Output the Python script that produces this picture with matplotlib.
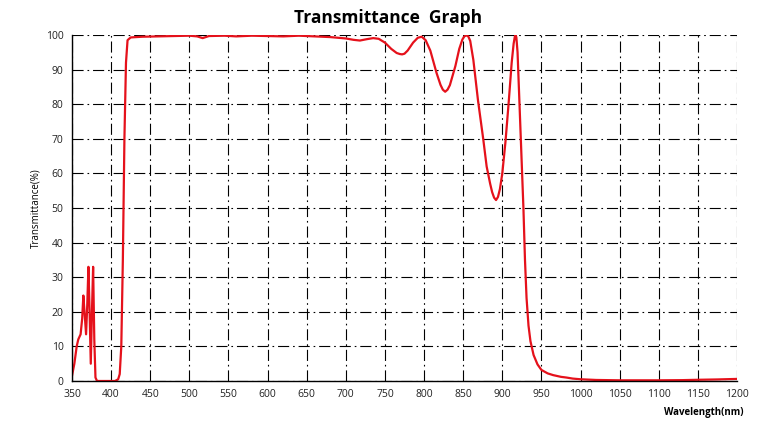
import matplotlib
matplotlib.use("Agg")
import matplotlib.pyplot as plt

wavelength = [350, 353, 356, 358, 361, 363, 364.5, 366, 368, 369.5, 371, 372.5, 374, 375.5, 377, 378.5,
              380, 382, 395, 405, 409, 411, 413, 415, 417, 419, 421, 425, 440, 460, 480, 500, 510, 517,
              525, 545, 560, 580, 600, 620, 640, 660, 680, 700, 710, 718, 727, 735, 742, 750, 758, 765,
              769, 772, 775, 779, 786, 792, 797, 802, 808, 816, 821, 824, 827, 830, 833, 840, 845, 849,
              851.5, 854, 856.5, 859, 863, 869, 875.6, 880, 884.5, 887, 889.5, 892, 894.5, 897, 900, 904,
              908, 912, 914.5, 916, 917, 918, 919.5, 922, 925, 927, 929, 931, 933.5, 936, 940, 945, 950,
              958, 965, 975, 982, 990, 1000, 1020, 1050, 1100, 1130, 1150, 1175, 1200]
transmittance = [1.5, 5, 10, 12, 13.5, 18, 24.7, 20, 13.5, 22, 33, 20, 5, 20, 33, 12,
                 1, 0, 0, 0, 0.5, 2, 10, 35, 70, 92, 98.5, 99.3, 99.5, 99.6, 99.7, 99.8, 99.6, 99.1,
                 99.7, 99.8, 99.6, 99.8, 99.7, 99.6, 99.8, 99.6, 99.4, 99.0, 98.6, 98.4, 98.8, 99.1, 98.9, 97.8, 96.0, 94.8,
                 94.5, 94.4, 94.6, 95.5, 97.8, 99.2, 99.5, 98.5, 95.5, 89.0, 85.6, 84.2, 83.6, 84.2, 85.5, 91, 96, 98.7,
                 99.6, 99.9, 99.6, 98.3, 92.8, 81, 70, 62, 57, 54.6, 53.0, 52.3, 53.2, 55.5, 60, 69,
                 80, 92, 97.5, 99.5, 100, 99.3, 95, 80, 62, 50, 35, 24, 16, 11.5, 7.5, 4.8, 3.2,
                 2.2, 1.7, 1.2, 1.0, 0.7, 0.5, 0.3, 0.2, 0.2, 0.25, 0.35, 0.45, 0.6]

x_ticks = list(range(350, 1201, 50))
y_ticks = list(range(0, 101, 10))

plt.rcParams['font.family'] = ['Open Sans', 'DejaVu Sans']

fig = plt.figure(figsize=(7.75, 4.42), dpi=100)
ax = fig.add_axes([72/775, 61/442, 665/775, 346/442])

ax.plot(wavelength, transmittance, color='#e5111b', lw=1.6, zorder=3, solid_joinstyle='round')

ax.set_xlim(350, 1200)
ax.set_ylim(0, 100)
ax.set_xticks(x_ticks)
ax.set_yticks(y_ticks)
ax.tick_params(length=0, labelsize=7.5, colors='#222222', pad=6)
ax.grid(True, color='black', lw=0.8, linestyle=(0, (10, 3.5, 1.5, 3.5)))
for s in ['top', 'right']:
    ax.spines[s].set_visible(False)
for s in ['left', 'bottom']:
    ax.spines[s].set_linewidth(1.0)
    ax.spines[s].set_color('black')
    ax.spines[s].set_zorder(4)

ax.set_ylabel('Transmittance(%)', fontsize=7, labelpad=3)
fig.text(743/775, 1 - 412/442, 'Wavelength(nm)', fontsize=7, fontweight='bold', ha='right', va='center')
fig.text(388/775, 1 - 18/442, 'Transmittance  Graph', fontsize=12.5, fontweight='bold', ha='center', va='center')

fig.savefig('out.png', dpi=100)
